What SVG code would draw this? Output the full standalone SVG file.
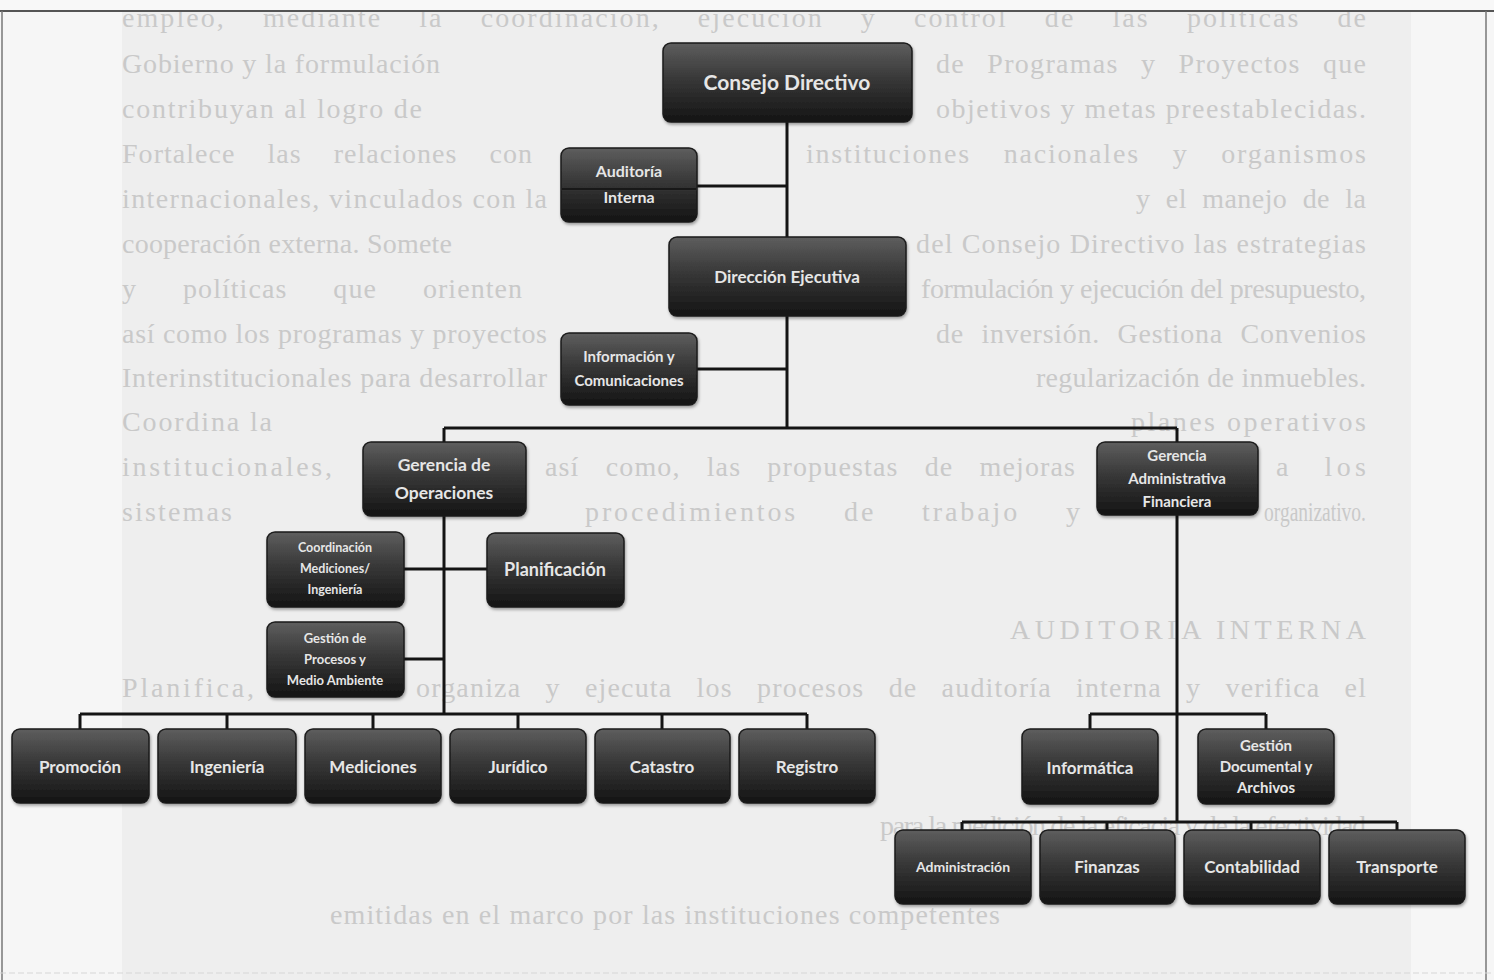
<svg xmlns="http://www.w3.org/2000/svg" width="1494" height="980" viewBox="0 0 1494 980">
<defs>
<linearGradient id="boxg" x1="0" y1="0" x2="0" y2="1">
<stop offset="0" stop-color="#5e5e5e"/>
<stop offset="0.45" stop-color="#383838"/>
<stop offset="1" stop-color="#141414"/>
</linearGradient>
<filter id="sh" x="-10%" y="-10%" width="120%" height="130%">
<feDropShadow dx="1" dy="2" stdDeviation="1.5" flood-color="#000" flood-opacity="0.35"/>
</filter>
</defs>
<style>
.bg{font-family:"Liberation Serif","DejaVu Serif",serif;font-size:28px;fill:#c9c9c9}
.box{fill:url(#boxg);stroke:#1b1b1b;stroke-width:1.5;filter:url(#sh)}
.t{font-family:Lato,"Open Sans","Liberation Sans",sans-serif;font-weight:700;fill:#e6e6e6;text-anchor:middle}
.c{stroke:#141414;stroke-width:3;fill:none}
</style>
<rect x="0" y="0" width="1494" height="980" fill="#f6f6f6"/>
<rect x="122" y="11" width="1289" height="969" fill="#eeeeee"/>
<g id="background-text">
<text class="bg" x="122" y="27" textLength="1244" lengthAdjust="spacing" word-spacing="28">empleo, mediante la coordinación, ejecución y control de las políticas de</text>
<text class="bg" x="122" y="73" textLength="318" lengthAdjust="spacing">Gobierno y la formulación</text>
<text class="bg" x="1366" y="73" text-anchor="end" textLength="430" lengthAdjust="spacing" word-spacing="14">de Programas y Proyectos que</text>
<text class="bg" x="122" y="118" textLength="300" lengthAdjust="spacing">contribuyan al logro de</text>
<text class="bg" x="1366" y="118" text-anchor="end" textLength="430" lengthAdjust="spacing">objetivos y metas preestablecidas.</text>
<text class="bg" x="122" y="163" textLength="410" lengthAdjust="spacing" word-spacing="24">Fortalece las relaciones con</text>
<text class="bg" x="1366" y="163" text-anchor="end" textLength="560" lengthAdjust="spacing" word-spacing="24">instituciones nacionales y organismos</text>
<text class="bg" x="122" y="208" textLength="425" lengthAdjust="spacing">internacionales, vinculados con la</text>
<text class="bg" x="1366" y="208" text-anchor="end" textLength="230" lengthAdjust="spacing" word-spacing="8">y el manejo de la</text>
<text class="bg" x="122" y="253" textLength="330" lengthAdjust="spacing">cooperación externa. Somete</text>
<text class="bg" x="1366" y="253" text-anchor="end" textLength="450" lengthAdjust="spacing">del Consejo Directivo las estrategias</text>
<text class="bg" x="122" y="298" textLength="400" lengthAdjust="spacing" word-spacing="38">y políticas que orienten</text>
<text class="bg" x="1366" y="298" text-anchor="end" textLength="445" lengthAdjust="spacing">formulación y ejecución del presupuesto,</text>
<text class="bg" x="122" y="343" textLength="425" lengthAdjust="spacing">así como los programas y proyectos</text>
<text class="bg" x="1366" y="343" text-anchor="end" textLength="430" lengthAdjust="spacing" word-spacing="10">de inversión. Gestiona Convenios</text>
<text class="bg" x="122" y="387" textLength="425" lengthAdjust="spacing">Interinstitucionales para desarrollar</text>
<text class="bg" x="1366" y="387" text-anchor="end" textLength="330" lengthAdjust="spacing">regularización de inmuebles.</text>
<text class="bg" x="122" y="431" textLength="150" lengthAdjust="spacing">Coordina la</text>
<text class="bg" x="1366" y="431" text-anchor="end" textLength="235" lengthAdjust="spacing">planes operativos</text>
<text class="bg" x="122" y="476" textLength="210" lengthAdjust="spacing">institucionales,</text>
<text class="bg" x="545" y="476" textLength="530" lengthAdjust="spacing" word-spacing="18">así como, las propuestas de mejoras</text>
<text class="bg" x="1366" y="476" text-anchor="end" textLength="90" lengthAdjust="spacing" word-spacing="20">a los</text>
<text class="bg" x="122" y="521" textLength="110" lengthAdjust="spacing">sistemas</text>
<text class="bg" x="585" y="521" textLength="495" lengthAdjust="spacing" word-spacing="36">procedimientos de trabajo y</text>
<text class="bg" x="1366" y="521" text-anchor="end" textLength="102" lengthAdjust="spacingAndGlyphs">organizativo.</text>
<text class="bg" x="1366" y="639" text-anchor="end" textLength="356" lengthAdjust="spacing">AUDITORIA INTERNA</text>
<text class="bg" x="122" y="697" textLength="132" lengthAdjust="spacing">Planifica,</text>
<text class="bg" x="1366" y="697" text-anchor="end" textLength="950" lengthAdjust="spacing" word-spacing="16">organiza y ejecuta los procesos de auditoría interna y verifica el</text>
<text class="bg" x="1366" y="835" text-anchor="end" textLength="486" lengthAdjust="spacing">para la medición de la eficacia y de la efectividad</text>
<text class="bg" x="330" y="924" textLength="670" lengthAdjust="spacing">emitidas en el marco por las instituciones competentes</text>
</g>
<g id="frame" fill="none">
<rect x="0" y="0" width="1494" height="10" fill="#f8f8f8"/>
<line x1="0" y1="11" x2="1494" y2="11" stroke="#555" stroke-width="2"/>
<line x1="2" y1="11" x2="2" y2="980" stroke="#777" stroke-width="1.5"/>
<line x1="1486" y1="11" x2="1486" y2="980" stroke="#777" stroke-width="1.5"/>
<line x1="0" y1="973" x2="1494" y2="973" stroke="#d6d6d6" stroke-width="1" stroke-dasharray="6 3"/>
</g>
<g id="connectors" class="c">
<path class="c" d="M787 122V237M697 186H787M787 316V428M697 369H787M444 428H1177M444 428V442M1177 428V442M444 516V714M404 569H487M404 659H444M80 714H807M80 714V729M227 714V729M373 714V729M518 714V729M662 714V729M807 714V729M1177 515V822M1090 714H1266M1090 714V729M1266 714V729M962 822H1397M962 822V830M1107 822V830M1251 822V830M1397 822V830"/>
</g>
<g id="consejo-directivo"><rect class="box" x="663" y="43" width="249" height="79" rx="8"/><text class="t" x="787" y="90" font-size="21">Consejo Directivo</text></g>
<g id="auditoria-interna"><rect class="box" x="561" y="148" width="136" height="74" rx="8"/><line x1="562" y1="189" x2="696" y2="189" stroke="#111" stroke-width="1.5"/><text class="t" x="629" y="177" font-size="16">Auditoría</text><text class="t" x="629" y="203" font-size="16">Interna</text></g>
<g id="direccion-ejecutiva"><rect class="box" x="669" y="237" width="237" height="79" rx="8"/><text class="t" x="787" y="283" font-size="17">Dirección Ejecutiva</text></g>
<g id="informacion-comunicaciones"><rect class="box" x="561" y="333" width="136" height="72" rx="8"/><text class="t" x="629" y="362" font-size="15">Información y</text><text class="t" x="629" y="386" font-size="15">Comunicaciones</text></g>
<g id="gerencia-operaciones"><rect class="box" x="363" y="442" width="163" height="74" rx="8"/><text class="t" x="444" y="471" font-size="17.5">Gerencia de</text><text class="t" x="444" y="499" font-size="17.5">Operaciones</text></g>
<g id="gerencia-administrativa-financiera"><rect class="box" x="1097" y="442" width="161" height="73" rx="8"/><text class="t" x="1177" y="461" font-size="15">Gerencia</text><text class="t" x="1177" y="484" font-size="15">Administrativa</text><text class="t" x="1177" y="507" font-size="15">Financiera</text></g>
<g id="coordinacion-mediciones"><rect class="box" x="267" y="532" width="137" height="75" rx="8"/><text class="t" x="335" y="552" font-size="12.5">Coordinación</text><text class="t" x="335" y="573" font-size="12.5">Mediciones/</text><text class="t" x="335" y="594" font-size="12.5">Ingeniería</text></g>
<g id="planificacion"><rect class="box" x="487" y="533" width="137" height="74" rx="8"/><text class="t" x="555" y="576" font-size="18">Planificación</text></g>
<g id="gestion-procesos"><rect class="box" x="267" y="622" width="137" height="75" rx="8"/><text class="t" x="335" y="643" font-size="13">Gestión de</text><text class="t" x="335" y="664" font-size="13">Procesos y</text><text class="t" x="335" y="685" font-size="13">Medio Ambiente</text></g>
<g id="promocion"><rect class="box" x="12" y="729" width="137" height="74" rx="8"/><text class="t" x="80" y="773" font-size="17">Promoción</text></g>
<g id="ingenieria"><rect class="box" x="158" y="729" width="138" height="74" rx="8"/><text class="t" x="227" y="773" font-size="17">Ingeniería</text></g>
<g id="mediciones"><rect class="box" x="305" y="729" width="136" height="74" rx="8"/><text class="t" x="373" y="773" font-size="17">Mediciones</text></g>
<g id="juridico"><rect class="box" x="450" y="729" width="136" height="74" rx="8"/><text class="t" x="518" y="773" font-size="17">Jurídico</text></g>
<g id="catastro"><rect class="box" x="595" y="729" width="135" height="74" rx="8"/><text class="t" x="662" y="773" font-size="17">Catastro</text></g>
<g id="registro"><rect class="box" x="739" y="729" width="136" height="74" rx="8"/><text class="t" x="807" y="773" font-size="17">Registro</text></g>
<g id="informatica"><rect class="box" x="1022" y="729" width="136" height="75" rx="8"/><text class="t" x="1090" y="774" font-size="17">Informática</text></g>
<g id="gestion-documental"><rect class="box" x="1198" y="729" width="136" height="75" rx="8"/><text class="t" x="1266" y="751" font-size="15">Gestión</text><text class="t" x="1266" y="772" font-size="15">Documental y</text><text class="t" x="1266" y="793" font-size="15">Archivos</text></g>
<g id="administracion"><rect class="box" x="895" y="830" width="136" height="74" rx="8"/><text class="t" x="963" y="872" font-size="14">Administración</text></g>
<g id="finanzas"><rect class="box" x="1040" y="830" width="135" height="74" rx="8"/><text class="t" x="1107" y="873" font-size="17">Finanzas</text></g>
<g id="contabilidad"><rect class="box" x="1184" y="830" width="136" height="74" rx="8"/><text class="t" x="1252" y="873" font-size="17">Contabilidad</text></g>
<g id="transporte"><rect class="box" x="1329" y="830" width="136" height="74" rx="8"/><text class="t" x="1397" y="873" font-size="17">Transporte</text></g>
</svg>
